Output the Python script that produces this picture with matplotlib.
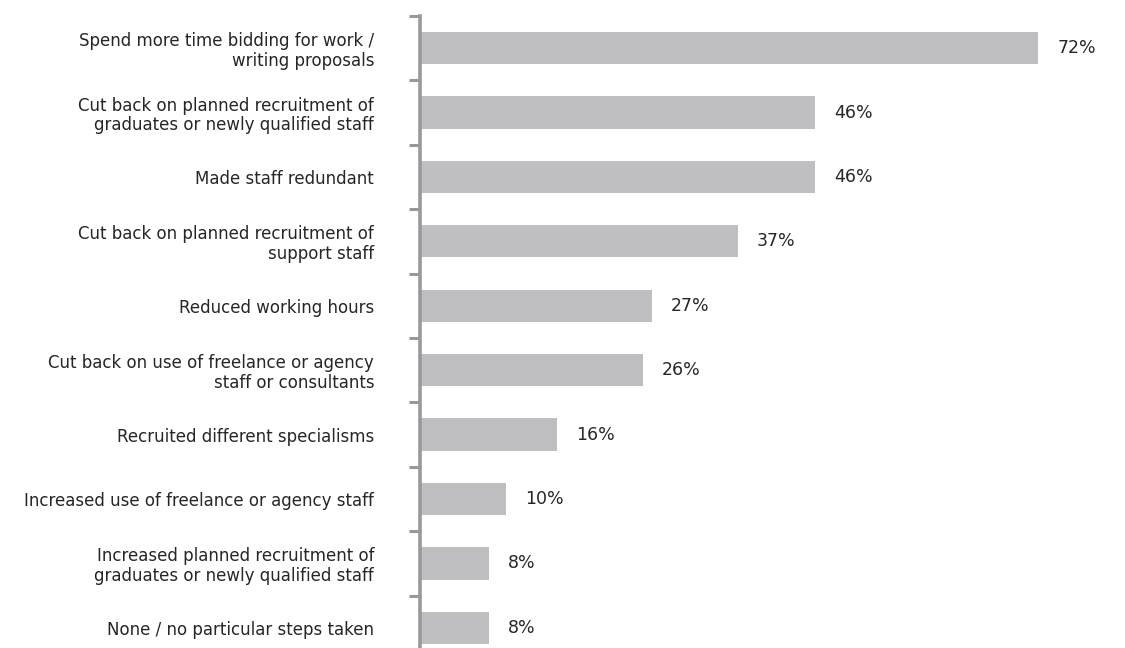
import numpy as np
import matplotlib.pyplot as plt

# Steps taken, listed top to bottom
steps = [
    "Spend more time bidding for work /\nwriting proposals",
    "Cut back on planned recruitment of\ngraduates or newly qualified staff",
    "Made staff redundant",
    "Cut back on planned recruitment of\nsupport staff",
    "Reduced working hours",
    "Cut back on use of freelance or agency\nstaff or consultants",
    "Recruited different specialisms",
    "Increased use of freelance or agency staff",
    "Increased planned recruitment of\ngraduates or newly qualified staff",
    "None / no particular steps taken",
]
share = [72, 46, 46, 37, 27, 26, 16, 10, 8, 8]

bar_col = '#bfbfc1'
axis_col = '#98999b'
text_col = '#262626'

plt.rcParams['font.family'] = ['DejaVu Sans']

fig = plt.figure(figsize=(11.25, 6.48), dpi=100)
# axes run off the bottom edge of the figure
ax = fig.add_axes([420 / 1125, -12 / 648, 687 / 1125, 644 / 648])

y = np.arange(len(steps))
ax.barh(y, share, height=0.5, color=bar_col, zorder=2)
for yi, v in zip(y, share):
    ax.text(v + 2.2, yi, f"{v}%", va='center', ha='left', fontsize=12.5, color=text_col)

ax.set_ylim(len(steps) - 0.5, -0.5)
ax.set_xlim(0, 80)

# category labels centred on the bars, ticks on the boundaries
ax.set_yticks(y)
ax.set_yticklabels(steps, fontsize=12, color=text_col, ha='right', linespacing=1.1)
ax.tick_params(axis='y', which='major', length=0, pad=33)
ax.set_yticks(np.arange(len(steps) + 1) - 0.5, minor=True)
ax.tick_params(axis='y', which='minor', length=8, width=2.2, color=axis_col, direction='out')

ax.set_xticks([])
for s in ['top', 'right', 'bottom']:
    ax.spines[s].set_visible(False)
ax.spines['left'].set_color(axis_col)
ax.spines['left'].set_linewidth(2.6)

fig.savefig('out.png', dpi=100)
